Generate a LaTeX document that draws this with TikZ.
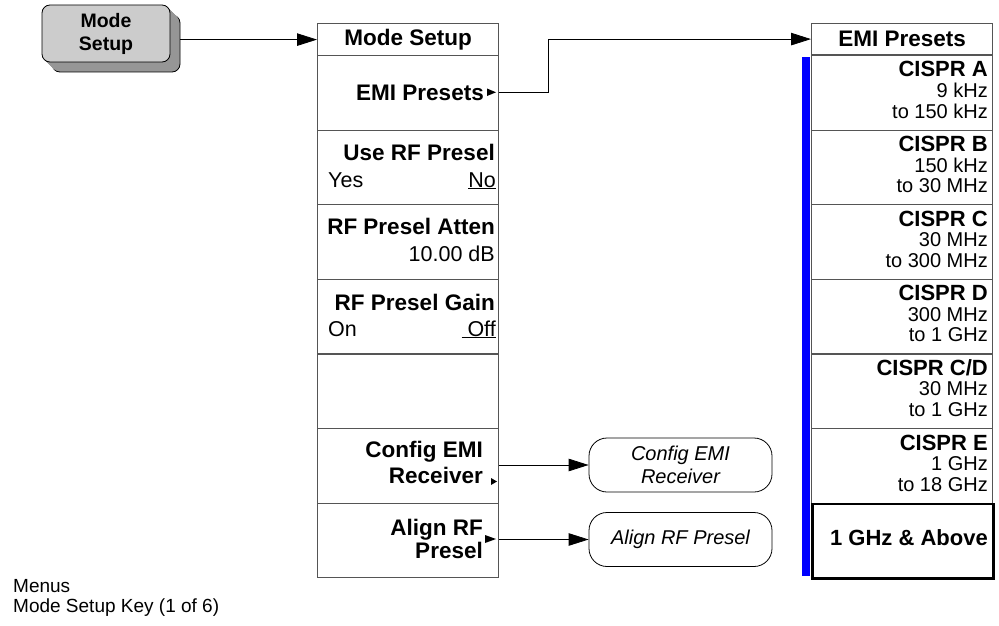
\documentclass[tikz,border=0pt]{standalone}
\usepackage{fontspec}
\setmainfont{Liberation Sans}
\usetikzlibrary{arrows.meta}
\definecolor{menugray}{RGB}{85,85,85}
\definecolor{keyfill}{RGB}{204,204,204}
\definecolor{keyshadow}{RGB}{150,150,150}
\definecolor{barblue}{RGB}{0,0,255}
\newcommand\keybf{\fontsize{22.5}{26}\selectfont\bfseries}
\newcommand\keyrm{\fontsize{21.5}{26}\selectfont}
\newcommand\presetbf{\fontsize{22}{22}\selectfont\bfseries}
\newcommand\presetrm{\fontsize{20}{20.5}\selectfont}
\newcommand\ovalit{\fontsize{20}{23}\selectfont\itshape}
\newcommand\btnbf{\fontsize{19.5}{23}\selectfont\bfseries}
\newcommand\notefont{\fontsize{19}{18}\selectfont}

\begin{document}
\begin{tikzpicture}[x=1pt, y=-1pt, line join=miter,
        menubox/.style={draw=menugray, line width=1.2pt, minimum width=181pt, minimum height=74.6pt, inner sep=0pt, anchor=north west},
        titlebox/.style={menubox, minimum height=32pt, font=\keybf},
        keylabel/.style={anchor=base east, inner sep=0pt, font=\keybf},
        keyvalue/.style={anchor=base east, inner sep=0pt, font=\keyrm},
        keyleft/.style={anchor=base west, inner sep=0pt, font=\keyrm},
        presetlabel/.style={anchor=base east, inner sep=0pt, font=\presetbf},
        presetvalue/.style={anchor=base east, inner sep=0pt, font=\presetrm},
        softbox/.style={draw=black, line width=0.8pt, rounded corners=18pt, minimum width=183pt, minimum height=54pt, align=center, font=\ovalit},
        hardkey/.style={draw=black, line width=0.8pt, rounded corners=8pt, minimum width=128pt, minimum height=57pt},
        link/.style={draw=black, line width=0.8pt, -{Triangle[length=20pt,width=12.5pt]}}]
        \useasboundingbox (0,0) rectangle (999,626);
        % Mode Setup hardkey
        \node[hardkey, fill=keyshadow] (btnsh) at (116,43.5) {};
        \foreach \d in {1,...,9} {
          \node[hardkey, fill=keyshadow, draw=none] (btnx\d) at (106+\d,33.5+\d) {};
        }
        \node[hardkey, fill=keyfill, align=center, font=\btnbf] (btn) at (106,33.5) {Mode\\Setup};
        % Mode Setup menu
        \node[titlebox] (msT) at (317,23) {Mode Setup};
        \foreach \i in {0,...,6} {
          \node[menubox] (msk\i) at (317,{55+74.6*\i}) {};
        }
        \node[keylabel] (emi) at (484,100) {EMI Presets};
        \node[keylabel] (rfsel) at (495,160) {Use RF Presel};
        \node[keyleft] (rfyes) at (328,187) {Yes};
        \node[keyvalue] (rfno) at (496,187) {\underline{No}};
        \node[keylabel] (atten) at (495,234) {RF Presel Atten};
        \node[keyvalue] (attval) at (495,261) {10.00 dB};
        \node[keylabel] (gain) at (495,310) {RF Presel Gain};
        \node[keyleft] (gainon) at (328,336) {On};
        \node[keyvalue] (gainoff) at (496,336) {\underline{\ Off}};
        \node[keylabel] (cfgA) at (483,457) {Config EMI};
        \node[keylabel] (cfgB) at (483,483) {Receiver};
        \node[keylabel] (alnA) at (483,535) {Align RF};
        \node[keylabel] (alnB) at (483,558) {Presel};
        % submenu markers
        \fill (487,88.5) -- (496,92.3) -- (487,96) -- cycle;
        \fill (491,478) -- (497,481.5) -- (491,485) -- cycle;
        \fill (485,535) -- (496,539) -- (485,543) -- cycle;
        % EMI Presets menu
        \fill[barblue] (802,57) rectangle (810,576);
        \node[titlebox, minimum height=31pt] (epT) at (811,23) {EMI Presets};
        \foreach \i/\preset/\lo/\hi in {0/CISPR A/9 kHz/to 150 kHz, 1/CISPR B/150 kHz/to 30 MHz, 2/CISPR C/30 MHz/to 300 MHz,
            3/CISPR D/300 MHz/to 1 GHz, 4/{CISPR C/D}/30 MHz/to 1 GHz, 5/CISPR E/1 GHz/to 18 GHz} {
          \node[menubox] (epk\i) at (811,{55+74.6*\i}) {};
          \node[presetlabel] (epn\i) at (988,{77+74.6*\i}) {\preset};
          \node[presetvalue] (eplo\i) at (988,{97.5+74.6*\i}) {\lo};
          \node[presetvalue] (ephi\i) at (988,{118+74.6*\i}) {\hi};
        }
        \node[menubox, draw=black, line width=2.5pt] (epk6) at (811,{55+74.6*6}) {};
        \node[presetlabel] (epabove) at (988,545) {1 GHz \& Above};
        % Softkey actions
        \node[softbox] (cfg) at (680.5,465) {Config EMI\\Receiver};
        \node[softbox] (aln) at (680.5,539.5) {Align RF Presel};
        % Links
        \draw[link] (btnsh.east |- msT.west) -- (msT.west);
        \draw[link] (msk0.east) -- ++(49,0) |- (epT.west);
        \draw[link] (msk5.east |- cfg.west) -- (cfg.west);
        \draw[link] (msk6.east |- aln.west) -- (aln.west);
        % Caption
        \node[anchor=base west, inner sep=0pt, font=\notefont] (menus) at (13,592) {Menus};
        \node[anchor=base west, inner sep=0pt, font=\notefont] (modekey) at (13,612) {Mode Setup Key (1 of 6)};
\end{tikzpicture}
\end{document}
